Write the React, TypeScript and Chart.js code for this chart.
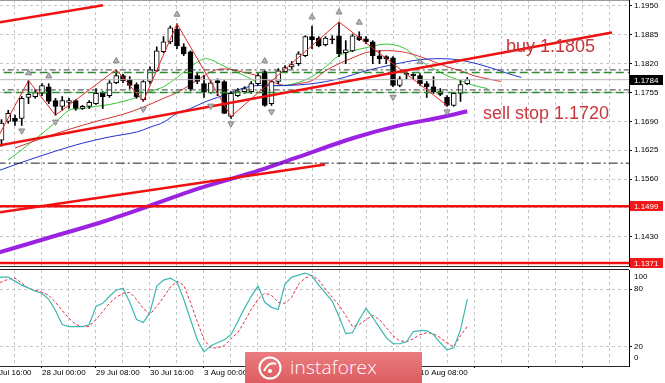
import React, { useEffect, useRef } from 'react';
import { Chart, registerables } from 'chart.js';

Chart.register(...registerables);

// ---------- price candles (H4), bar index 0 = 3 Aug 00:00 ----------
const FIRST_BAR = -30;
const OPEN = [
  1.1648, 1.1690, 1.1697, 1.1697, 1.1744, 1.1746, 1.1753, 1.1768, 1.1737, 1.1724,
  1.1733, 1.1737, 1.1719, 1.1724, 1.1730, 1.1755, 1.1748, 1.1777, 1.1793, 1.1784,
  1.1773, 1.1739, 1.1780, 1.1804, 1.1847, 1.1869, 1.1898, 1.1858, 1.1847, 1.1793,
  1.1775, 1.1755, 1.1782, 1.1780, 1.1701, 1.1748, 1.1757, 1.1757, 1.1775, 1.1802,
  1.1730, 1.1780, 1.1802, 1.1813, 1.1820, 1.1838, 1.1881, 1.1878, 1.1863, 1.1876,
  1.1883, 1.1845, 1.1849, 1.1881, 1.1876, 1.1869, 1.1838, 1.1836, 1.1833, 1.1771,
  1.1798, 1.1796, 1.1793, 1.1775, 1.1768, 1.1757, 1.1744, 1.1726, 1.1753, 1.1775,
];
const HIGH = [
  1.1694, 1.1715, 1.1704, 1.1746, 1.1782, 1.1762, 1.1775, 1.1775, 1.1742, 1.1746,
  1.1742, 1.1739, 1.1726, 1.1737, 1.1764, 1.1757, 1.1782, 1.1804, 1.1796, 1.1791,
  1.1777, 1.1782, 1.1813, 1.1858, 1.1881, 1.1905, 1.1910, 1.1865, 1.1849, 1.1798,
  1.1793, 1.1782, 1.1786, 1.1782, 1.1757, 1.1764, 1.1768, 1.1780, 1.1798, 1.1804,
  1.1782, 1.1809, 1.1816, 1.1825, 1.1847, 1.1883, 1.1905, 1.1881, 1.1881, 1.1883,
  1.1914, 1.1872, 1.1887, 1.1892, 1.1881, 1.1872, 1.1849, 1.1838, 1.1836, 1.1791,
  1.1802, 1.1798, 1.1798, 1.1780, 1.1791, 1.1764, 1.1748, 1.1755, 1.1782, 1.1789,
];
const LOW = [
  1.1634, 1.1686, 1.1681, 1.1681, 1.1730, 1.1742, 1.1748, 1.1730, 1.1704, 1.1715,
  1.1719, 1.1715, 1.1717, 1.1719, 1.1728, 1.1719, 1.1744, 1.1775, 1.1777, 1.1764,
  1.1742, 1.1735, 1.1775, 1.1802, 1.1845, 1.1865, 1.1854, 1.1838, 1.1759, 1.1775,
  1.1744, 1.1753, 1.1748, 1.1708, 1.1697, 1.1746, 1.1753, 1.1753, 1.1771, 1.1724,
  1.1726, 1.1775, 1.1800, 1.1809, 1.1816, 1.1836, 1.1854, 1.1858, 1.1860, 1.1865,
  1.1836, 1.1820, 1.1847, 1.1872, 1.1865, 1.1820, 1.1820, 1.1820, 1.1768, 1.1768,
  1.1786, 1.1786, 1.1771, 1.1744, 1.1753, 1.1748, 1.1724, 1.1724, 1.1735, 1.1773,
];
const CLOSE = [
  1.1686, 1.1708, 1.1690, 1.1742, 1.1751, 1.1755, 1.1771, 1.1735, 1.1724, 1.1737,
  1.1737, 1.1719, 1.1724, 1.1733, 1.1753, 1.1746, 1.1777, 1.1793, 1.1782, 1.1771,
  1.1746, 1.1780, 1.1807, 1.1849, 1.1869, 1.1901, 1.1860, 1.1842, 1.1764, 1.1780,
  1.1757, 1.1777, 1.1777, 1.1708, 1.1753, 1.1759, 1.1764, 1.1775, 1.1793, 1.1726,
  1.1780, 1.1804, 1.1811, 1.1818, 1.1842, 1.1881, 1.1874, 1.1860, 1.1878, 1.1874,
  1.1842, 1.1851, 1.1883, 1.1874, 1.1869, 1.1838, 1.1831, 1.1831, 1.1771, 1.1786,
  1.1796, 1.1793, 1.1775, 1.1768, 1.1757, 1.1751, 1.1726, 1.1753, 1.1773, 1.1784,
];

// ---------- Alligator + long MA ----------
const GREEN_BARS = [-29, -25, -22, -20, -18, -16, -14, -12, -10, -8, -6, -4, -2, 0, 1, 2, 4, 6, 8, 10, 12, 14, 16, 18, 20, 22, 24, 26, 28, 30, 32, 34, 36, 38, 40, 42];
const GREEN_VALUES = [1.1603, 1.1650, 1.1688, 1.1715, 1.1719, 1.1724, 1.1728, 1.1735, 1.1744, 1.1757, 1.1768, 1.1789, 1.1813, 1.1831, 1.1829, 1.1822, 1.1807, 1.1793, 1.1778, 1.1771, 1.1771, 1.1778, 1.1791, 1.1813, 1.1838, 1.1849, 1.1856, 1.1863, 1.1863, 1.1852, 1.1827, 1.1809, 1.1793, 1.1782, 1.1771, 1.1764];
const RED_BARS = [-28, -24, -20, -16, -12, -9, -6, -4, -2, 0, 2, 4, 6, 8, 10, 12, 14, 16, 18, 20, 22, 24, 26, 28, 30, 32, 34, 36, 38, 40, 42, 44];
const RED_VALUES = [1.1630, 1.1652, 1.1672, 1.1690, 1.1706, 1.1722, 1.1742, 1.1755, 1.1773, 1.1793, 1.1807, 1.1807, 1.1800, 1.1793, 1.1780, 1.1771, 1.1775, 1.1782, 1.1804, 1.1820, 1.1833, 1.1845, 1.1849, 1.1849, 1.1845, 1.1836, 1.1825, 1.1813, 1.1804, 1.1793, 1.1786, 1.1780];
const BLUE_BARS = [-31, -26, -22, -18, -14, -10, -8, -6, -4, -2, 0, 2, 4, 6, 8, 12, 16, 20, 24, 28, 32, 36, 39, 42, 45, 47];
const BLUE_VALUES = [1.1576, 1.1603, 1.1623, 1.1641, 1.1655, 1.1666, 1.1677, 1.1688, 1.1708, 1.1719, 1.1733, 1.1744, 1.1755, 1.1766, 1.1771, 1.1771, 1.1775, 1.1786, 1.1804, 1.1818, 1.1829, 1.1831, 1.1825, 1.1813, 1.1798, 1.1789];
const PURPLE_BARS = [-31, -23, -15, -8, -1, 7, 14, 22, 29, 35, 39];
const PURPLE_VALUES = [1.1392, 1.1428, 1.1464, 1.1500, 1.1538, 1.1574, 1.1610, 1.1652, 1.1681, 1.1699, 1.1713];

// ---------- ZigZag + fractals ----------
const ZIGZAG_BARS = [-32, -26, -22, -13, -9, -4, 4, 20, 36];
const ZIGZAG_VALUES = [1.1613, 1.1782, 1.1704, 1.1807, 1.1735, 1.1910, 1.1701, 1.1914, 1.1726];
const FRACTAL_UP_BARS = [-26, -23, -13, -4, 9, 16, 20, 23, 32];
const FRACTAL_UP_VALUES = [1.1799, 1.1792, 1.1826, 1.1931, 1.1826, 1.1925, 1.1936, 1.1913, 1.1824];
const FRACTAL_DOWN_BARS = [-27, -22, -9, 1, 4, 10, 28, 36];
const FRACTAL_DOWN_VALUES = [1.1669, 1.1689, 1.1718, 1.1725, 1.1685, 1.1712, 1.1745, 1.1712];

// ---------- drawn objects ----------
const TREND_MAIN_BARS = [-30.22, 60.44];
const TREND_MAIN_PRICES = [1.16365, 1.18902];
const TREND_LOW_BARS = [-30.22, 17.93];
const TREND_LOW_PRICES = [1.14854, 1.15930];
const TREND_TOP_BARS = [-30.22, -14.96];
const TREND_TOP_PRICES = [1.19135, 1.19516];
const RED_LEVELS = [1.1499, 1.1371];
const BID_LEVEL = 1.1784;
const DASHDOT_LEVEL = 1.1596;
const ORDER_UPPER = [1.1806, 1.1761];
const ORDER_LOWER = [1.1800, 1.1755];
const NOTE_TEXTS = ['buy 1.1805', 'sell stop 1.1720'];
const NOTE_BARS = [44.74, 41.33];
const NOTE_PRICES = [1.18462, 1.16961];
const BOX_PRICES = [1.1784, 1.1499, 1.1371];
const BOX_COLORS = ['#000000', '#f01818', '#f01818'];

// ---------- stochastic ----------
const STOCH_FIRST_BAR = -31;
const STOCH_MAIN = [
  91.6, 92.6, 92.6, 88.4, 84.2, 81.1, 77.9, 75.8, 69.5, 57.9,
  43.2, 41.1, 41.1, 41.1, 43.2, 62.1, 65.3, 72.6, 78.9, 81.1,
  66.3, 48.4, 45.3, 55.8, 83.2, 89.5, 91.6, 87.4, 69.5, 48.4,
  27.4, 14.7, 21.1, 24.2, 27.4, 32.6, 46.3, 60.0, 72.6, 83.2,
  66.3, 61.1, 58.9, 85.3, 92.6, 94.7, 96.8, 93.7, 84.2, 75.8,
  67.4, 51.6, 33.7, 34.7, 48.4, 60.0, 50.5, 40.0, 29.5, 23.2,
  23.2, 25.3, 35.8, 36.8, 36.8, 32.6, 24.2, 16.8, 18.9, 37.9, 69.5,
];
const STOCH_SIGNAL = [
  86.3, 87.4, 90.5, 91.6, 86.3, 81.1, 78.9, 76.8, 73.7, 66.3,
  57.9, 49.5, 43.2, 41.1, 41.1, 48.4, 56.8, 65.3, 71.6, 75.8,
  76.8, 69.5, 60.0, 53.7, 62.1, 71.6, 82.1, 88.4, 84.2, 66.3,
  46.3, 27.4, 18.9, 18.9, 21.1, 28.4, 34.7, 46.3, 58.9, 69.5,
  75.8, 73.7, 66.3, 65.3, 71.6, 85.3, 91.6, 94.7, 89.5, 80.0,
  71.6, 63.2, 52.6, 41.1, 43.2, 48.4, 52.6, 48.4, 40.0, 31.6,
  26.3, 25.3, 28.4, 32.6, 34.7, 33.7, 29.5, 24.2, 20.0, 31.6, 41.1,
];

// ---------- axes ----------
const PRICE_TICKS = [1.1950, 1.1885, 1.1820, 1.1755, 1.1690, 1.1625, 1.1560, 1.1495, 1.1430];
const STOCH_TICKS = [20, 80];
const STOCH_EDGE_LABELS = [100, 0];
const TIME_TICK_BARS = [-32, -24, -16, -8, 0, 8, 16, 24, 32];
const TIME_TICK_LABELS = ['24 Jul 16:00', '28 Jul 00:00', '29 Jul 08:00', '30 Jul 16:00', '3 Aug 00:00', '4 Aug 08:00', '5 Aug 16:00', '7 Aug 00:00', '10 Aug 08:00'];

const X_MIN = -30.22;
const X_MAX = 62.96;
const PRICE_MIN = 1.13643;
const PRICE_MAX = 1.19635;
const AXIS_W = 36;
const FONT = '"Liberation Sans", Arial, sans-serif';
const GRID_BARS = Array.from({ length: 23 }, (_, k) => -28 + 4 * k);

const pts = (xs: number[], ys: number[]) => xs.map((x, k) => ({ x, y: ys[k] }));
const hline = (p: number) => [{ x: X_MIN - 3, y: p }, { x: X_MAX + 3, y: p }];

function lineDs(data: any[], color: string, width: number, order: number, extra: any = {}) {
  return {
    type: 'line', data, borderColor: color, borderWidth: width, pointRadius: 0,
    fill: false, tension: 0, order, ...extra,
  };
}

function noPad(s: any) {
  s.paddingTop = 0;
  s.paddingBottom = 0;
  s.paddingLeft = 0;
  s.paddingRight = 0;
}

const mainOverlay = {
  id: 'mainOverlay',
  afterDraw(chart: any) {
    const { ctx, chartArea, scales } = chart;
    const x = scales.x, y = scales.y;
    ctx.save();
    ctx.strokeStyle = '#9a9a9a';
    ctx.lineWidth = 1;
    ctx.beginPath();
    ctx.moveTo(chartArea.left, chartArea.top + 0.5);
    ctx.lineTo(chartArea.right, chartArea.top + 0.5);
    ctx.stroke();
    ctx.font = '18px ' + FONT;
    ctx.fillStyle = '#c8373c';
    ctx.textAlign = 'left';
    ctx.textBaseline = 'alphabetic';
    NOTE_TEXTS.forEach((t, k) => {
      ctx.fillText(t, x.getPixelForValue(NOTE_BARS[k]), y.getPixelForValue(NOTE_PRICES[k]));
    });
    ctx.font = '8px ' + FONT;
    ctx.textBaseline = 'middle';
    BOX_PRICES.forEach((p, k) => {
      const py = Math.round(y.getPixelForValue(p));
      ctx.fillStyle = BOX_COLORS[k];
      ctx.fillRect(chartArea.right + 1, py - 5, 33, 10);
      ctx.fillStyle = '#ffffff';
      ctx.fillText(p.toFixed(4), chartArea.right + 5, py + 0.5);
    });
    ctx.restore();
  },
};

const stochOverlay = {
  id: 'stochOverlay',
  afterDraw(chart: any) {
    const { ctx, chartArea, scales } = chart;
    const y = scales.y;
    ctx.save();
    ctx.strokeStyle = '#222';
    ctx.lineWidth = 1;
    ctx.beginPath();
    ctx.moveTo(chartArea.left, chartArea.top - 0.5);
    ctx.lineTo(chartArea.right, chartArea.top - 0.5);
    ctx.stroke();
    ctx.font = '8px ' + FONT;
    ctx.fillStyle = '#000';
    ctx.textAlign = 'left';
    ctx.textBaseline = 'middle';
    STOCH_EDGE_LABELS.forEach((v) => {
      const py = Math.min(chartArea.bottom - 8, Math.max(chartArea.top + 7, y.getPixelForValue(v)));
      ctx.fillText(String(v), chartArea.right + 5, py);
    });
    ctx.restore();
  },
};

const tickFont = { family: FONT, size: 8 };

export default function App() {
  const mainRef = useRef<HTMLCanvasElement>(null);
  const stochRef = useRef<HTMLCanvasElement>(null);

  useEffect(() => {
    const bars = OPEN.map((_, k) => FIRST_BAR + k);
    const wicks = bars.map((b, k) => ({ x: b, y: [LOW[k], HIGH[k]] }));
    const bodies = bars.map((b, k) => {
      const lo = Math.min(OPEN[k], CLOSE[k]);
      const hi = Math.max(OPEN[k], CLOSE[k]);
      const pad = Math.max(0, (0.00025 - (hi - lo)) / 2);
      return { x: b, y: [lo - pad, hi + pad] };
    });
    const bodyColors = bars.map((_, k) => (CLOSE[k] >= OPEN[k] ? '#ffffff' : '#000000'));
    const pxPerBar = 629 / (X_MAX - X_MIN);

    const xBase = {
      type: 'linear', position: 'bottom', min: X_MIN, max: X_MAX, offset: false,
      afterBuildTicks: (s: any) => { s.ticks = GRID_BARS.map((v) => ({ value: v })); },
    };

    const main = new Chart(mainRef.current as HTMLCanvasElement, {
      type: 'line',
      data: {
        datasets: [
          lineDs(pts(PURPLE_BARS, PURPLE_VALUES), '#9a22e0', 4, 8, { tension: 0.3 }),
          lineDs(pts(BLUE_BARS, BLUE_VALUES), '#2230d0', 1, 7, { tension: 0.35 }),
          lineDs(pts(RED_BARS, RED_VALUES), '#d83434', 1, 7, { tension: 0.35 }),
          lineDs(pts(GREEN_BARS, GREEN_VALUES), '#34c634', 1, 7, { tension: 0.35 }),
          {
            type: 'bar', data: wicks, backgroundColor: '#000', borderWidth: 0,
            barThickness: 1, grouped: false, order: 6,
          },
          {
            type: 'bar', data: bodies, backgroundColor: bodyColors, borderColor: '#000',
            borderWidth: 1, borderSkipped: false, barThickness: 5, grouped: false, order: 5,
          },
          lineDs(hline(BID_LEVEL), '#b8b8b8', 1, 4),
          lineDs(hline(DASHDOT_LEVEL), '#202020', 1, 4, { borderDash: [9, 3, 2, 3] }),
          ...ORDER_UPPER.map((p) => lineDs(hline(p), '#3a3a3a', 1, 4, { borderDash: [6, 3, 2, 3] })),
          ...ORDER_LOWER.map((p) => lineDs(hline(p), '#2e8b2e', 1.5, 4, { borderDash: [8, 4] })),
          ...RED_LEVELS.map((p) => lineDs(hline(p), '#f01010', 2.5, 3)),
          lineDs(pts(TREND_MAIN_BARS, TREND_MAIN_PRICES), '#f01010', 2.5, 3),
          lineDs(pts(TREND_LOW_BARS, TREND_LOW_PRICES), '#f01010', 2.5, 3),
          lineDs(pts(TREND_TOP_BARS, TREND_TOP_PRICES), '#f01010', 2.5, 3),
          lineDs(pts(ZIGZAG_BARS, ZIGZAG_VALUES), '#e02a2a', 1, 2),
          {
            type: 'scatter', data: pts(FRACTAL_UP_BARS, FRACTAL_UP_VALUES), showLine: false,
            pointStyle: 'triangle', pointRadius: 3.5, rotation: 0,
            backgroundColor: '#b4b4ba', borderColor: '#84848a', borderWidth: 1, order: 1,
          },
          {
            type: 'scatter', data: pts(FRACTAL_DOWN_BARS, FRACTAL_DOWN_VALUES), showLine: false,
            pointStyle: 'triangle', pointRadius: 3.5, rotation: 180,
            backgroundColor: '#b4b4ba', borderColor: '#84848a', borderWidth: 1, order: 1,
          },
        ] as any,
      },
      options: {
        animation: false,
        responsive: false,
        devicePixelRatio: 1,
        events: [],
        layout: { padding: { top: 0, bottom: 6, left: 0, right: 0 }, autoPadding: false } as any,
        plugins: { legend: { display: false }, tooltip: { enabled: false } },
        scales: {
          x: {
            ...xBase,
            afterFit: (s: any) => { s.height = 0; noPad(s); },
            ticks: { display: false },
            grid: { color: '#c6c6c6', drawTicks: false, offset: false },
            border: { display: true, color: '#2a2a2a', dash: [3, 3] },
          } as any,
          y: {
            type: 'linear', position: 'right', min: PRICE_MIN, max: PRICE_MAX, beginAtZero: false,
            afterBuildTicks: (s: any) => { s.ticks = PRICE_TICKS.map((v) => ({ value: v })); },
            afterFit: (s: any) => { s.width = AXIS_W; noPad(s); },
            ticks: {
              callback: (v: any) => Number(v).toFixed(4), color: '#000', font: tickFont,
              padding: 2, autoSkip: false,
            },
            grid: { color: '#c6c6c6', drawTicks: true, tickLength: 3, tickColor: '#000' },
            border: { display: true, color: '#000', dash: [3, 3] },
          } as any,
        },
      },
      plugins: [mainOverlay],
    } as any);

    const stoch = new Chart(stochRef.current as HTMLCanvasElement, {
      type: 'line',
      data: {
        datasets: [
          lineDs(STOCH_SIGNAL.map((v, k) => ({ x: STOCH_FIRST_BAR + k, y: v })), '#e0304a', 1, 2, { borderDash: [3, 2] }),
          lineDs(STOCH_MAIN.map((v, k) => ({ x: STOCH_FIRST_BAR + k, y: v })), '#3cb8b0', 1.2, 1),
        ] as any,
      },
      options: {
        animation: false,
        responsive: false,
        devicePixelRatio: 1,
        events: [],
        layout: { padding: { top: 2, bottom: 0, left: 0, right: 0 }, autoPadding: false } as any,
        plugins: { legend: { display: false }, tooltip: { enabled: false } },
        scales: {
          x: {
            ...xBase,
            afterFit: (s: any) => { s.height = 17; noPad(s); },
            ticks: {
              display: true, autoSkip: false, maxRotation: 0, minRotation: 0, align: 'start',
              labelOffset: -4 * pxPerBar, padding: 0, color: '#000', font: tickFont,
              callback: (v: any) => {
                const k = TIME_TICK_BARS.indexOf(Number(v) - 4);
                return k >= 0 ? TIME_TICK_LABELS[k] : '';
              },
            },
            grid: {
              color: '#c6c6c6', drawTicks: true, tickLength: 2, offset: false,
              tickColor: (c: any) => (c.tick && c.tick.value % 8 === 0 ? '#000' : 'rgba(0,0,0,0)'),
            },
            border: { display: true, color: '#2a2a2a', dash: [3, 3] },
          } as any,
          y: {
            type: 'linear', position: 'right', min: 0, max: 100,
            afterBuildTicks: (s: any) => { s.ticks = STOCH_TICKS.map((v) => ({ value: v })); },
            afterFit: (s: any) => { s.width = AXIS_W; noPad(s); },
            ticks: { color: '#000', font: tickFont, padding: 2, autoSkip: false },
            grid: { color: '#c6c6c6', drawTicks: true, tickLength: 3, tickColor: '#000' },
            border: { display: true, color: '#000', dash: [3, 3] },
          } as any,
        },
      },
      plugins: [stochOverlay],
    } as any);

    return () => {
      main.destroy();
      stoch.destroy();
    };
  }, []);

  return (
    <div style={{ position: 'fixed', left: 0, top: 0, width: 665, height: 383, background: '#ffffff', overflow: 'hidden' }}>
      <canvas ref={stochRef} width={665} height={115} style={{ position: 'absolute', left: 0, top: 268, display: 'block' }} />
      <canvas ref={mainRef} width={665} height={272} style={{ position: 'absolute', left: 0, top: 0, display: 'block' }} />
      <div
        style={{
          position: 'absolute', left: 245, top: 352, width: 177, height: 31,
          background: 'linear-gradient(#ea7c7f, #dd5d61)', display: 'flex', alignItems: 'center',
        }}
      >
        <svg width="26" height="26" viewBox="0 0 26 26" style={{ marginLeft: 12 }}>
          <circle cx="13" cy="13" r="10.5" fill="none" stroke="#ffffff" strokeWidth="2" />
          <path d="M7 16 Q12 6 19 9" fill="none" stroke="#ffffff" strokeWidth="2" />
          <circle cx="13" cy="16" r="2" fill="#ffffff" />
        </svg>
        <span
          style={{
            marginLeft: 7, color: '#ffffff', fontFamily: '"Open Sans", sans-serif',
            fontWeight: 300, fontSize: 19, lineHeight: '31px', letterSpacing: 0.2,
          }}
        >
          instaforex
        </span>
      </div>
    </div>
  );
}
